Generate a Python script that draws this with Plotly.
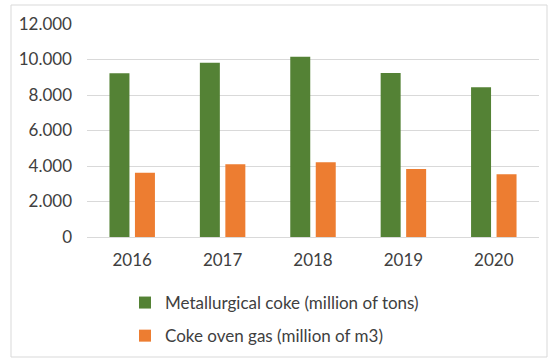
import plotly.graph_objects as go

years = ["2016", "2017", "2018", "2019", "2020"]
coke = [9220, 9810, 10150, 9240, 8430]
gas = [3620, 4100, 4210, 3830, 3540]
y_ticks = [0, 2000, 4000, 6000, 8000, 10000, 12000]

GREEN = "#548235"
ORANGE = "#ED7D31"
TEXT = "#404040"
GRID = "#d9d9d9"

W, H = 548, 359
L, R, T, B = 87, 9, 24, 122
pw, ph = W - L - R, H - T - B


def px_x(px):
    return (px - L) / pw


def px_y(py):
    return (H - B - py) / ph


fig = go.Figure()
fig.add_trace(go.Bar(x=years, y=coke, name="Metallurgical coke (million of tons)",
                     legendgroup="coke",
                     marker=dict(color=GREEN, line=dict(width=0))))
fig.add_trace(go.Bar(x=years, y=gas, name="Coke oven gas (million of m3)",
                     legendgroup="gas",
                     marker=dict(color=ORANGE, line=dict(width=0))))

fig.update_layout(
    width=W, height=H,
    margin=dict(l=L, r=R, t=T, b=B, pad=0, autoexpand=False),
    paper_bgcolor="white", plot_bgcolor="white",
    separators=",.",
    barmode="group", bargap=0.436, bargroupgap=0.216,
    font=dict(family="Lato", size=17, color=TEXT),
    xaxis=dict(showgrid=False, ticks="", showline=False,
               tickfont=dict(size=17, color=TEXT), ticklabelstandoff=11),
    yaxis=dict(range=[0, 12000], tickvals=y_ticks, tickformat=",",
               showgrid=True, gridcolor=GRID, gridwidth=1,
               zeroline=True, zerolinecolor=GRID, zerolinewidth=1,
               showline=False, ticks="", ticklabelstandoff=14,
               tickfont=dict(size=17, color=TEXT)),
    showlegend=True,
    legend=dict(orientation="v", x=px_x(125), xanchor="left",
                y=px_y(285), yanchor="top",
                font=dict(size=17, color=TEXT), tracegroupgap=8,
                itemsizing="constant", bgcolor="rgba(0,0,0,0)"),
    shapes=[dict(type="rect", xref="paper", yref="paper",
                 x0=px_x(11), x1=px_x(547), y0=px_y(357), y1=px_y(5),
                 line=dict(color=GRID, width=1), fillcolor="rgba(0,0,0,0)",
                 layer="below")],
)

fig.write_html("out.html")
